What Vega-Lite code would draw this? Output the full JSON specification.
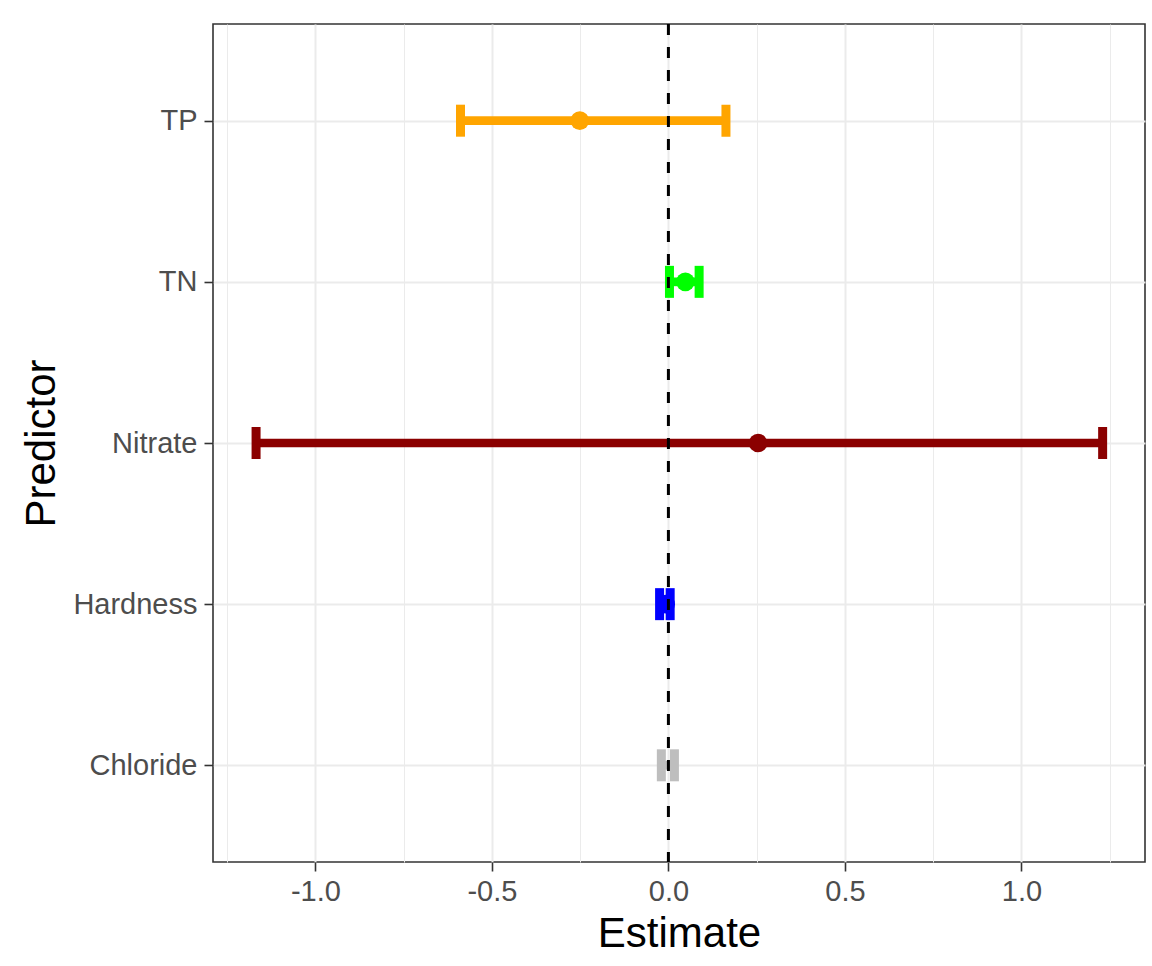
{
  "$schema": "https://vega.github.io/schema/vega-lite/v6.json",
  "width": 932,
  "height": 838,
  "autosize": {"type": "none"},
  "padding": {"left": 213, "top": 24, "right": 7, "bottom": 104},
  "background": "white",
  "config": {
    "font": "Liberation Sans",
    "view": {"stroke": "#333333", "strokeWidth": 1.6},
    "axis": {
      "domain": false,
      "gridColor": "#EBEBEB",
      "tickColor": "#333333",
      "tickWidth": 1.6,
      "tickSize": 9,
      "labelColor": "#4D4D4D",
      "labelFontSize": 29,
      "titleFontSize": 42,
      "titleFontWeight": "normal",
      "titleColor": "#000000"
    }
  },
  "data": {
    "values": [
      {"Predictor": "TP", "est": -0.251, "low": -0.589, "high": 0.163},
      {"Predictor": "TN", "est": 0.048, "low": 0.003, "high": 0.087},
      {"Predictor": "Nitrate", "est": 0.254, "low": -1.168, "high": 1.23},
      {"Predictor": "Hardness", "est": -0.008, "low": -0.025, "high": 0.005},
      {"Predictor": "Chloride", "est": null, "low": -0.02, "high": 0.017}
    ]
  },
  "layer": [
    {
      "mark": {"type": "rule", "strokeWidth": 8.7},
      "encoding": {
        "x": {
          "field": "low",
          "type": "quantitative",
          "title": "Estimate",
          "scale": {"domain": [-1.29, 1.35], "nice": false, "zero": false},
          "axis": {
            "values": [-1.25, -1, -0.75, -0.5, -0.25, 0, 0.25, 0.5, 0.75, 1, 1.25],
            "labelExpr": "abs(datum.value*2 - round(datum.value*2)) < 0.01 ? replace(format(datum.value, '.1f'), '\u2212', '-') : ''",
            "labelPadding": 6,
            "titlePadding": 7,
            "gridWidth": {"condition": {"test": "abs(datum.value*2 - round(datum.value*2)) < 0.01", "value": 2}, "value": 1}, 
            "tickOpacity": {"condition": {"test": "abs(datum.value*2 - round(datum.value*2)) < 0.01", "value": 1}, "value": 0}
          }
        },
        "x2": {"field": "high"},
        "y": {
          "field": "Predictor",
          "type": "nominal",
          "title": "Predictor",
          "sort": ["TP", "TN", "Nitrate", "Hardness", "Chloride"],
          "scale": {"type": "point", "padding": 0.6},
          "axis": {"grid": true, "labelPadding": 7, "titlePadding": 9, "gridWidth": 2}
        },
        "color": {
          "field": "Predictor",
          "type": "nominal",
          "scale": {
            "domain": ["TP", "TN", "Nitrate", "Hardness", "Chloride"],
            "range": ["#FFA500", "#00FF00", "#8B0000", "#0000FF", "#BEBEBE"]
          },
          "legend": null
        }
      }
    },
    {
      "mark": {"type": "tick", "orient": "vertical", "size": 32, "thickness": 9, "opacity": 1},
      "encoding": {
        "x": {"field": "low", "type": "quantitative"},
        "y": {"field": "Predictor", "type": "nominal", "sort": ["TP", "TN", "Nitrate", "Hardness", "Chloride"]},
        "color": {"field": "Predictor", "type": "nominal", "legend": null}
      }
    },
    {
      "mark": {"type": "tick", "orient": "vertical", "size": 32, "thickness": 9, "opacity": 1},
      "encoding": {
        "x": {"field": "high", "type": "quantitative"},
        "y": {"field": "Predictor", "type": "nominal", "sort": ["TP", "TN", "Nitrate", "Hardness", "Chloride"]},
        "color": {"field": "Predictor", "type": "nominal", "legend": null}
      }
    },
    {
      "mark": {"type": "circle", "size": 350, "opacity": 1},
      "encoding": {
        "x": {"field": "est", "type": "quantitative"},
        "y": {"field": "Predictor", "type": "nominal", "sort": ["TP", "TN", "Nitrate", "Hardness", "Chloride"]},
        "color": {"field": "Predictor", "type": "nominal", "legend": null}
      }
    },
    {
      "data": {"values": [{"ref": 0}]},
      "mark": {"type": "rule", "color": "#000000", "strokeWidth": 3, "strokeDash": [11, 12]},
      "encoding": {
        "x": {"field": "ref", "type": "quantitative"}
      }
    }
  ]
}
